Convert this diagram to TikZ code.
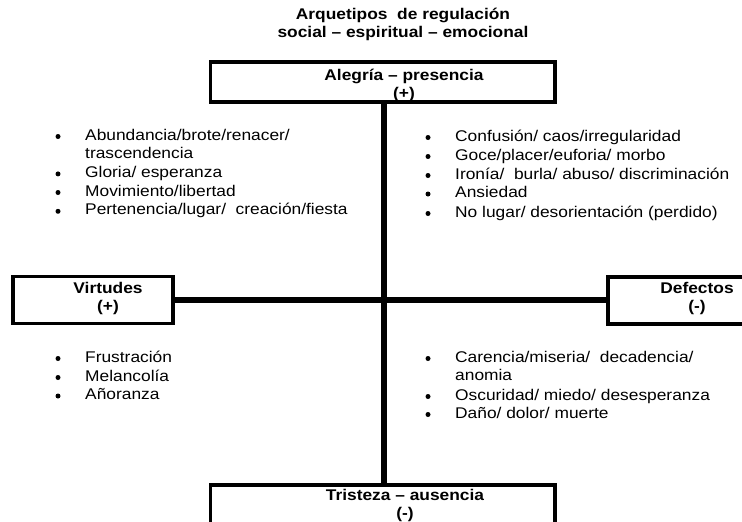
\documentclass[tikz,border=0pt]{standalone}
\usepackage{fontspec}
\setmainfont{Liberation Sans}[FakeStretch=1.12]
\begin{document}
\begin{tikzpicture}[x=1pt,y=-1pt,
  boxst/.style={draw=black,line width=3.5pt,fill=white,rectangle,inner sep=0pt},
  head/.style={font=\fontsize{15.5}{18}\selectfont\bfseries,anchor=base,inner sep=0pt,text=black},
  item/.style={font=\fontsize{15.5}{18}\selectfont,anchor=base west,inner sep=0pt,text=black},
  bul/.style={circle,fill=black,inner sep=0pt,minimum size=5pt},
  conn/.style={line width=6pt,black}]
\clip (0,0) rectangle (742,522);
\fill[white] (0,0) rectangle (742,522);
% title
\node[head] (title1) at (403,19.5) {Arquetipos\ \ de regulación};
\node[head] (title2) at (403,37) {social -- espiritual -- emocional};
% boxes
\node[boxst,minimum width=344.5pt,minimum height=40pt] (top) at (382.75,82) {};
\node[boxst,minimum width=160pt,minimum height=47pt] (left) at (93,300) {};
\node[boxst,minimum width=170pt,minimum height=47pt] (right) at (693,300.5) {};
\node[boxst,minimum width=344.5pt,minimum height=48pt] (bottom) at (382.75,509) {};
% connectors
\draw[conn] (top.south -| 383.5,0) -- (bottom.north -| 383.5,0);
\draw[conn] (left.east |- 0,300) -- (right.west |- 0,300);
% box labels
\node[head] (toplbl1) at (404,80) {Alegría -- presencia};
\node[head] (toplbl2) at (404,98) {(+)};
\node[head] (leftlbl1) at (108,293) {Virtudes};
\node[head] (leftlbl2) at (108,311) {(+)};
\node[head] (rightlbl1) at (697,293) {Defectos};
\node[head] (rightlbl2) at (697,311) {(-)};
\node[head] (botlbl1) at (405,500) {Tristeza -- ausencia};
\node[head] (botlbl2) at (405,518) {(-)};
% upper left list
\node[bul] (b1) at (58,136.5) {};
\node[item] (t1) at (85,140) {Abundancia/brote/renacer/};
\node[item] (t1b) at (85,158.7) {trascendencia};
\node[bul] (b2) at (58,173.9) {};
\node[item] (t2) at (85,177.4) {Gloria/ esperanza};
\node[bul] (b3) at (58,192.5) {};
\node[item] (t3) at (85,196) {Movimiento/libertad};
\node[bul] (b4) at (58,211.3) {};
\node[item] (t4) at (85,214.8) {Pertenencia/lugar/\ \ creación/fiesta};
% upper right list
\node[bul] (c1) at (428,137.5) {};
\node[item] (u1) at (455,141) {Confusión/ caos/irregularidad};
\node[bul] (c2) at (428,156.5) {};
\node[item] (u2) at (455,160) {Goce/placer/euforia/ morbo};
\node[bul] (c3) at (428,175.5) {};
\node[item] (u3) at (455,179) {Ironía/\ \ burla/ abuso/ discriminación};
\node[bul] (c4) at (428,194) {};
\node[item] (u4) at (455,197.5) {Ansiedad};
\node[bul] (c5) at (428,213.5) {};
\node[item] (u5) at (455,217) {No lugar/ desorientación (perdido)};
% lower left list
\node[bul] (d1) at (58,358.5) {};
\node[item] (v1) at (85,362) {Frustración};
\node[bul] (d2) at (58,377.5) {};
\node[item] (v2) at (85,381) {Melancolía};
\node[bul] (d3) at (58,396) {};
\node[item] (v3) at (85,399.5) {Añoranza};
% lower right list
\node[bul] (e1) at (428,358.5) {};
\node[item] (w1) at (455,362) {Carencia/miseria/\ \ decadencia/};
\node[item] (w1b) at (455,380.5) {anomia};
\node[bul] (e2) at (428,396.5) {};
\node[item] (w2) at (455,400) {Oscuridad/ miedo/ desesperanza};
\node[bul] (e3) at (428,414.5) {};
\node[item] (w3) at (455,418) {Daño/ dolor/ muerte};
\end{tikzpicture}
\end{document}
